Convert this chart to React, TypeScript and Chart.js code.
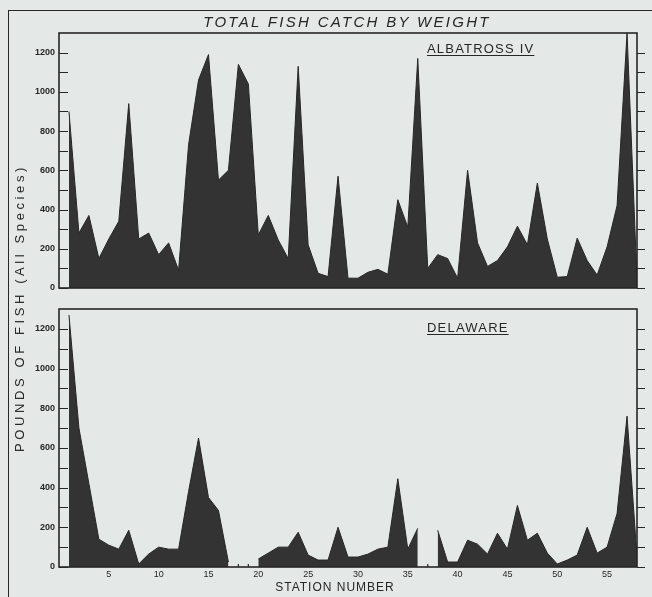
import React, { useEffect, useRef } from "react";
import { Chart, registerables } from "chart.js";

Chart.register(...registerables);

// ---- data ----
const stations = [
  1, 2, 3, 4, 5, 6, 7, 8, 9, 10, 11, 12, 13, 14, 15, 16, 17, 18, 19, 20,
  21, 22, 23, 24, 25, 26, 27, 28, 29, 30, 31, 32, 33, 34, 35, 36, 37, 38, 39, 40,
  41, 42, 43, 44, 45, 46, 47, 48, 49, 50, 51, 52, 53, 54, 55, 56, 57, 58,
];

const albatrossCatch = [
  900, 280, 370, 150, 250, 340, 940, 250, 280, 170, 230, 90, 730, 1060, 1190, 550, 600, 1140, 1040, 270,
  370, 245, 150, 1130, 220, 75, 58, 570, 50, 50, 80, 95, 70, 450, 310, 1170, 100, 170, 150, 50,
  600, 230, 110, 140, 210, 315, 220, 535, 250, 55, 58, 254, 140, 66, 210, 420, 1300, 40,
];

const delawareCatch: (number | null)[] = [
  1270, 700, 420, 140, 110, 90, 185, 15, 65, 100, 90, 90, 380, 650, 350, 285, 25, null, null, 40,
  70, 100, 100, 175, 60, 35, 35, 200, 50, 50, 65, 90, 100, 445, 90, 195, null, 185, 25, 25,
  135, 115, 65, 170, 90, 310, 135, 170, 70, 15, 35, 60, 200, 70, 100, 270, 760, 50,
];

const delawareEmptyStations = [18, 19, 37];

const yTickLabels = [0, 200, 400, 600, 800, 1000, 1200];
const yMinorTicks = [0, 100, 200, 300, 400, 500, 600, 700, 800, 900, 1000, 1100, 1200];
const xTickLabels = [5, 10, 15, 20, 25, 30, 35, 40, 45, 50, 55];
const xMin = 0;
const xMax = 58;
const yMax = 1300;

// ---- style ----
const INK = "#262626";
const FILL = "#333333";
const PAPER = "#e4e8e7";
const FONT = '"Liberation Sans", Arial, sans-serif';

const framePlugin = {
  id: "panelFrame",
  afterDraw(chart: any, _args: any, opts: any) {
    const { ctx, chartArea: a, scales } = chart;
    const y = scales.y;
    const x = scales.x;
    ctx.save();
    ctx.strokeStyle = INK;
    ctx.lineWidth = 1.6;
    ctx.strokeRect(a.left, a.top, a.right - a.left, a.bottom - a.top);
    ctx.lineWidth = 1.2;
    ctx.beginPath();
    yMinorTicks.forEach((v) => {
      const py = Math.round(y.getPixelForValue(v)) + 0.5;
      ctx.moveTo(a.left, py);
      ctx.lineTo(a.left + 9, py);
      ctx.moveTo(a.right, py);
      ctx.lineTo(a.right + 8, py);
    });
    ctx.stroke();
    ctx.fillStyle = INK;
    ctx.font = `bold 9px ${FONT}`;
    ctx.textAlign = "right";
    ctx.textBaseline = "middle";
    yTickLabels.forEach((v) => {
      ctx.fillText(String(v), a.left - 4, y.getPixelForValue(v));
    });
    if (opts && opts.xLabels) {
      ctx.textAlign = "center";
      ctx.textBaseline = "top";
      ctx.font = `9px ${FONT}`;
      xTickLabels.forEach((v) => {
        ctx.fillText(String(v), x.getPixelForValue(v), a.bottom + 3);
      });
    }
    ctx.restore();
  },
};

function makeConfig(values: (number | null)[], padding: any, xLabels: boolean, empty: number[]) {
  const datasets: any[] = [
    {
      type: "line",
      data: stations.map((s, i) => ({ x: s, y: values[i] })),
      fill: "origin",
      backgroundColor: FILL,
      borderColor: INK,
      borderWidth: 1,
      pointRadius: 0,
      tension: 0,
      spanGaps: false,
    },
  ];
  if (empty.length) {
    datasets.push({
      type: "scatter",
      data: empty.map((s) => ({ x: s, y: 0 })),
      pointStyle: "line",
      rotation: 90,
      radius: 3,
      borderColor: INK,
      borderWidth: 1.2,
    });
  }
  return {
    type: "line",
    data: { datasets },
    options: {
      animation: false,
      responsive: false,
      maintainAspectRatio: false,
      layout: { padding },
      scales: {
        x: { type: "linear", min: xMin, max: xMax, display: false },
        y: { min: 0, max: yMax, display: false },
      },
      plugins: {
        legend: { display: false },
        tooltip: { enabled: false },
        panelFrame: { xLabels },
      },
    },
    plugins: [framePlugin],
  } as any;
}

function Panel({ values, padding, xLabels, empty }: any) {
  const ref = useRef<HTMLCanvasElement>(null);
  useEffect(() => {
    const chart = new Chart(ref.current as HTMLCanvasElement, makeConfig(values, padding, xLabels, empty));
    return () => chart.destroy();
  }, []);
  return (
    <canvas
      ref={ref}
      width={652}
      height={597}
      style={{ position: "absolute", left: 0, top: 0, width: 652, height: 597 }}
    />
  );
}

const labelStyle: React.CSSProperties = {
  position: "absolute",
  color: INK,
  fontFamily: FONT,
  whiteSpace: "nowrap",
};

export default function App() {
  return (
    <div
      style={{
        position: "fixed",
        left: 0,
        top: 0,
        width: 652,
        height: 597,
        background: PAPER,
        overflow: "hidden",
      }}
    >
      <div
        style={{
          position: "absolute",
          left: 8,
          top: 10,
          width: 700,
          height: 700,
          borderLeft: `1.5px solid ${INK}`,
          borderTop: `1.5px solid ${INK}`,
        }}
      />
      <Panel values={albatrossCatch} padding={{ left: 59, right: 15, top: 33, bottom: 309 }} xLabels={false} empty={[]} />
      <Panel values={delawareCatch} padding={{ left: 59, right: 15, top: 309, bottom: 30 }} xLabels={true} empty={delawareEmptyStations} />
      <div
        style={{
          ...labelStyle,
          left: 147,
          width: 400,
          top: 13,
          textAlign: "center",
          fontStyle: "italic",
          fontSize: 15,
          letterSpacing: 2.3,
        }}
      >
        TOTAL FISH CATCH BY WEIGHT
      </div>
      <div
        style={{
          ...labelStyle,
          left: 427,
          top: 41,
          fontSize: 13,
          letterSpacing: 1.2,
          textDecoration: "underline",
          textUnderlineOffset: 2,
        }}
      >
        ALBATROSS IV
      </div>
      <div
        style={{
          ...labelStyle,
          left: 427,
          top: 320,
          fontSize: 13,
          letterSpacing: 1.2,
          textDecoration: "underline",
          textUnderlineOffset: 2,
        }}
      >
        DELAWARE
      </div>
      <div
        style={{
          ...labelStyle,
          left: 235,
          width: 200,
          top: 580,
          textAlign: "center",
          fontSize: 12,
          letterSpacing: 1,
        }}
      >
        STATION NUMBER
      </div>
      <div
        style={{
          ...labelStyle,
          left: 20 - 200,
          top: 308 - 8,
          width: 400,
          textAlign: "center",
          fontSize: 13,
          letterSpacing: 3.6,
          transform: "rotate(-90deg)",
          transformOrigin: "200px 8px",
        }}
      >
        POUNDS OF FISH (All Species)
      </div>
    </div>
  );
}
